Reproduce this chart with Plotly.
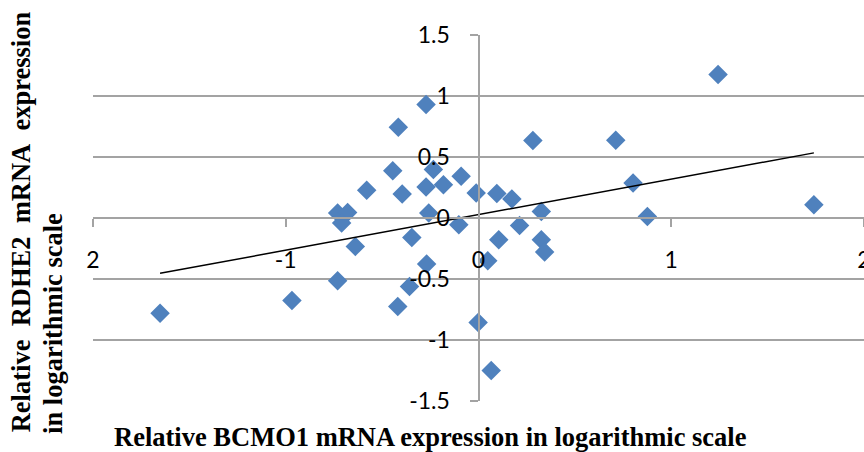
import numpy as np
import plotly.graph_objects as go

# Relative expression values (log scale) for each sample
bcmo1 = [-1.652, -0.968, -0.731, -0.731, -0.679, -0.710, -0.639, -0.580, -0.445, -0.416,
         -0.396, -0.346, -0.272, -0.272, -0.234, -0.182, -0.258, -0.090, -0.102, -0.012,
         -0.269, -0.358, -0.419, -0.002, 0.066, 0.048, 0.105, 0.095, 0.173, 0.213,
         0.282, 0.326, 0.326, 0.343, 0.712, 0.802, 0.876, 1.243, 1.740]
rdhe2 = [-0.780, -0.677, -0.515, 0.041, 0.046, -0.041, -0.233, 0.227, 0.388, 0.744,
         0.197, -0.159, 0.930, 0.255, 0.397, 0.273, 0.041, 0.342, -0.055, 0.205,
         -0.378, -0.562, -0.726, -0.857, -1.251, -0.351, -0.178, 0.200, 0.156, -0.061,
         0.635, 0.054, -0.178, -0.279, 0.637, 0.287, 0.013, 1.177, 0.109]

x_ticks = [-2, -1, 0, 1, 2]
x_ticktext = ["2", "-1", "0", "1", "2"]
y_ticks = [-1.5, -1, -0.5, 0, 0.5, 1, 1.5]
y_ticktext = ["-1.5", "-1", "-0.5", "0", "0.5", "1", "1.5"]

x_title = "Relative BCMO1 mRNA expression in logarithmic scale"
y_title_1 = "Relative\u00a0\u00a0RDHE2\u00a0\u00a0mRNA\u00a0\u00a0expression"
y_title_2 = "in logarithmic scale"

# Least-squares linear trend over the data range
slope, intercept = np.polyfit(bcmo1, rdhe2, 1)
trend_x = [min(bcmo1), max(bcmo1)]
trend_y = [slope * v + intercept for v in trend_x]

GRID = "#a3a3a3"
TICK_FONT = dict(family="Lato", size=23, color="black")
TITLE_FONT = dict(family="Liberation Serif", size=26.5, color="black")

fig = go.Figure()
fig.add_trace(go.Scatter(
    x=bcmo1, y=rdhe2, mode="markers",
    marker=dict(symbol="diamond", size=15, color="#4F81BD", line=dict(width=0)),
    showlegend=False, hoverinfo="x+y",
))
fig.add_trace(go.Scatter(
    x=trend_x, y=trend_y, mode="lines",
    line=dict(color="black", width=1.5),
    showlegend=False, hoverinfo="skip",
))

fig.update_layout(
    template="none",
    width=864, height=452,
    margin=dict(l=93, r=0, t=35, b=51, pad=0),
    paper_bgcolor="white", plot_bgcolor="white",
    xaxis=dict(
        range=[-2, 2], tickvals=x_ticks, ticktext=x_ticktext,
        showgrid=False, zeroline=False,
        showline=True, linecolor=GRID, linewidth=2,
        anchor="free", position=0.5,
        ticks="outside", ticklen=8, tickwidth=2, tickcolor=GRID,
        tickfont=TICK_FONT, ticklabelstandoff=13,
        ticklabeloverflow="allow",
        automargin=False,
    ),
    yaxis=dict(
        range=[-1.5, 1.5], tickvals=y_ticks, ticktext=y_ticktext,
        showgrid=True, gridcolor=GRID, gridwidth=2, zeroline=False,
        showline=True, linecolor=GRID, linewidth=2,
        anchor="free", position=0.5,
        ticks="outside", ticklen=8, tickwidth=2, tickcolor=GRID,
        tickfont=TICK_FONT, ticklabelstandoff=15,
        ticklabeloverflow="allow",
        automargin=False,
    ),
    annotations=[
        dict(text="<b>%s</b>" % x_title, xref="paper", yref="paper",
             x=0.4377, y=-0.099, xanchor="center", yanchor="middle",
             showarrow=False, font=TITLE_FONT),
        dict(text="<b>%s</b>" % y_title_1, xref="paper", yref="paper",
             x=-0.093, y=0.489, xanchor="center", yanchor="middle",
             textangle=-90, showarrow=False, font=TITLE_FONT),
        dict(text="<b>%s</b>" % y_title_2, xref="paper", yref="paper",
             x=-0.052, y=0.213, xanchor="center", yanchor="middle",
             textangle=-90, showarrow=False, font=TITLE_FONT),
    ],
)

fig.write_html("out.html")
